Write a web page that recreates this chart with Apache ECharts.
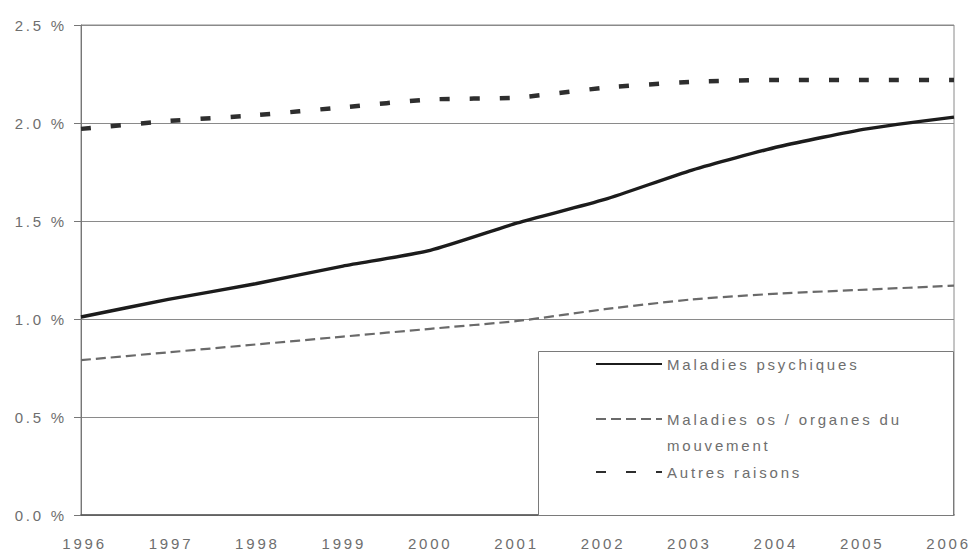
<!DOCTYPE html>
<html>
<head>
<meta charset="utf-8">
<script src="https://cdn.jsdelivr.net/npm/echarts@6/dist/echarts.min.js"></script>
<style>
  html, body { margin: 0; padding: 0; background: #fff; }
  #chart { width: 980px; height: 555px; }
  /* wide tracking on every label */
  #chart svg text { letter-spacing: 2.8px; }
</style>
</head>
<body>
<div id="chart"></div>
<script>
// Years on the horizontal axis
const years = ['1996', '1997', '1998', '1999', '2000', '2001', '2002', '2003', '2004', '2005', '2006'];

// Share of the insured population (%), by cause
const psychiques = [1.01, 1.10, 1.18, 1.27, 1.35, 1.49, 1.61, 1.76, 1.88, 1.97, 2.03];
const osMouvement = [0.79, 0.83, 0.87, 0.91, 0.95, 0.99, 1.05, 1.10, 1.13, 1.15, 1.17];
const autres = [1.97, 2.01, 2.04, 2.08, 2.12, 2.13, 2.18, 2.21, 2.22, 2.22, 2.22];

// Series names and y-axis ticks
const names = ['Maladies psychiques', 'Maladies os / organes du mouvement', 'Autres raisons'];
const yTicks = [0, 0.5, 1.0, 1.5, 2.0, 2.5];

const FONT = "'Liberation Sans', Arial, sans-serif";
const TXT = '#6e6e6e';

// Year labels sit slightly closer together than the ticks: nudge the outer ones inward
const yearItems = years.map((y, i) => {
  const shift = 3.6 - 0.9 * i;               // px, + = right, - = left
  const pad = shift >= 0 ? [0, 0, 0, 2 * shift] : [0, -2 * shift, 0, 0];
  return { value: y, textStyle: { padding: pad } };
});

const chart = echarts.init(document.getElementById('chart'), null, { renderer: 'svg' });

// Legend entries show the line sample only, no marker
const legendBase = {
  orient: 'vertical',
  itemWidth: 66,
  itemHeight: 14,
  padding: 0,
  selectedMode: false,
  itemStyle: { color: 'transparent', borderWidth: 0, opacity: 0 },
  textStyle: { fontFamily: FONT, fontSize: 15, color: TXT, lineHeight: 26 }
};

chart.setOption({
  animation: false,
  backgroundColor: '#fff',
  grid: {
    left: 81, right: 26, top: 25, bottom: 40,
    show: true, borderColor: '#8a8a8a', borderWidth: 1, backgroundColor: 'transparent'
  },
  xAxis: {
    type: 'category',
    data: yearItems,
    boundaryGap: false,
    axisLine: { show: true, lineStyle: { color: '#555', width: 1.5 } },
    axisTick: { show: false },
    axisLabel: { color: TXT, fontFamily: FONT, fontSize: 15, margin: 21 },
    splitLine: { show: false }
  },
  yAxis: {
    type: 'value',
    min: yTicks[0],
    max: yTicks[yTicks.length - 1],
    interval: 0.5,
    axisLine: { show: true, lineStyle: { color: '#777', width: 1 } },
    axisTick: { show: true, length: 7, lineStyle: { color: '#777' } },
    axisLabel: {
      color: TXT, fontFamily: FONT, fontSize: 15, margin: 14,
      formatter: v => v.toFixed(1) + ' %'
    },
    splitLine: { show: true, lineStyle: { color: '#8a8a8a', width: 1 } }
  },
  graphic: [{
    type: 'rect',
    z: 3,
    shape: { x: 538.5, y: 351.5, width: 415, height: 164 },
    style: { fill: '#fff', stroke: '#7a7a7a', lineWidth: 1 }
  }],
  legend: [
    Object.assign({}, legendBase, { data: [names[0]], left: 595, top: 351 }),
    Object.assign({}, legendBase, {
      data: [names[1]], left: 595, top: 380,
      formatter: () => '\nMaladies os / organes du\nmouvement'
    }),
    Object.assign({}, legendBase, { data: [names[2]], left: 595, top: 459 })
  ],
  series: [
    {
      name: names[0], type: 'line', data: psychiques,
      symbol: 'none', smooth: 0.2, z: 5,
      lineStyle: { color: '#1c1c1c', width: 3.4, type: 'solid' },
      itemStyle: { color: '#1c1c1c' }
    },
    {
      name: names[1], type: 'line', data: osMouvement,
      symbol: 'none', smooth: 0.2, z: 4,
      lineStyle: { color: '#6a6a6a', width: 2.2, type: [10, 5] },
      itemStyle: { color: '#6a6a6a' }
    },
    {
      name: names[2], type: 'line', data: autres,
      symbol: 'none', smooth: 0.2, z: 4,
      lineStyle: { color: '#2e2e2e', width: 4.5, type: [10, 20], cap: 'butt' },
      itemStyle: { color: '#2e2e2e' }
    }
  ]
});
</script>
</body>
</html>
